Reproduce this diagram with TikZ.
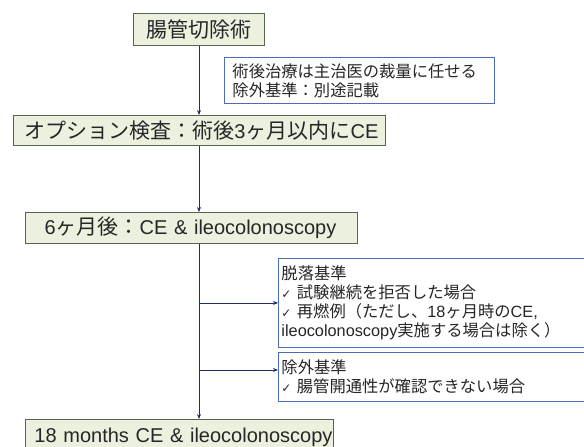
\documentclass[tikz,border=0pt]{standalone}
\usepackage{fontspec}
\setmainfont{Liberation Sans}
\newfontfamily\jp{Noto Sans CJK JP}
\newfontfamily\chk{DejaVu Sans}
\usetikzlibrary{arrows.meta}
\usetikzlibrary{positioning}

\definecolor{boxgreen}{HTML}{EBF1DE}
\definecolor{boxedge}{HTML}{56664A}
\definecolor{noteedge}{HTML}{4A6DB3}
\definecolor{flowline}{HTML}{1F2D66}
\definecolor{txt}{HTML}{262626}

\newcommand{\ck}{{\chk\fontsize{12}{14}\selectfont\char"2713}\ }
\newcommand{\jbig}[1]{{\jp\fontsize{21}{24}\selectfont #1}}

\begin{document}
\begin{tikzpicture}[x=1pt,y=-1pt,
    stepbox/.style={draw=boxedge,fill=boxgreen,line width=1pt,anchor=north west,
        text=txt,font=\fontsize{20}{24}\selectfont,inner sep=0pt,align=left},
    notebox/.style={draw=noteedge,fill=white,line width=0.9pt,anchor=north west,
        text=txt,font=\fontsize{16.3}{19}\selectfont,inner sep=0pt,align=left},
    flow/.style={draw=flowline,line width=0.9pt,-{Stealth[length=5pt,width=4pt]}}]
    % Canvas
    \useasboundingbox (0,0) rectangle (584,447);
    \clip (0,0) rectangle (584,447);

    % Main boxes
    \node[stepbox,minimum width=131,minimum height=32,align=center] (surgery) at (133,13) {\jbig{腸管切除術}};
    \node[stepbox,minimum width=372,minimum height=30,text width=372] (option) at (13,115)
        {\hspace*{11pt}\jbig{オプション検査：術後}3\jbig{ヶ月以内に}CE};
    \node[stepbox,minimum width=332,minimum height=31,text width=332] (sixmonth) at (25,212)
        {\hspace*{19pt}6\jbig{ヶ月後：}CE \& ileocolonoscopy};
    \node[stepbox,minimum width=308,minimum height=36,text width=308] (final) at (25,419)
        {\hspace*{9pt}18 months CE \& ileocolonoscopy};

    % Side notes
    \node[notebox,minimum width=270,minimum height=46,text width=270] (treat) at (224,57)
        {\hspace*{8pt}{\jp 術後治療は主治医の裁量に任せる}\\\hspace*{8pt}{\jp 除外基準：別途記載}};
    \node[notebox,minimum width=320,minimum height=89,text width=320] (dropout) at (278,258)
        {\hspace*{3pt}{\jp 脱落基準}\\
         \hspace*{3pt}\ck {\jp 試験継続を拒否した場合}\\
         \hspace*{3pt}\ck {\jp 再燃例（ただし、}18{\jp ヶ月時の}CE,\\
         \hspace*{3pt}ileocolonoscopy{\jp 実施する場合は除く）}};
    \node[notebox,minimum width=320,minimum height=49,text width=320] (exclude) at (278,352)
        {\hspace*{3pt}{\jp 除外基準}\\\hspace*{3pt}\ck {\jp 腸管開通性が確認できない場合}};

    % Flow
    \draw[flow] (surgery.south) -- (option.north -| surgery.south);
    \draw[flow] (option.south -| surgery.south) -- (sixmonth.north -| surgery.south);
    \draw[flow] (sixmonth.south -| surgery.south) -- (final.north -| surgery.south);
    \draw[flow] (dropout.west -| surgery.south) -- (dropout.west);
    \draw[flow] ([yshift=7pt]exclude.west -| surgery.south) -- ([yshift=7pt]exclude.west);
\end{tikzpicture}
\end{document}
